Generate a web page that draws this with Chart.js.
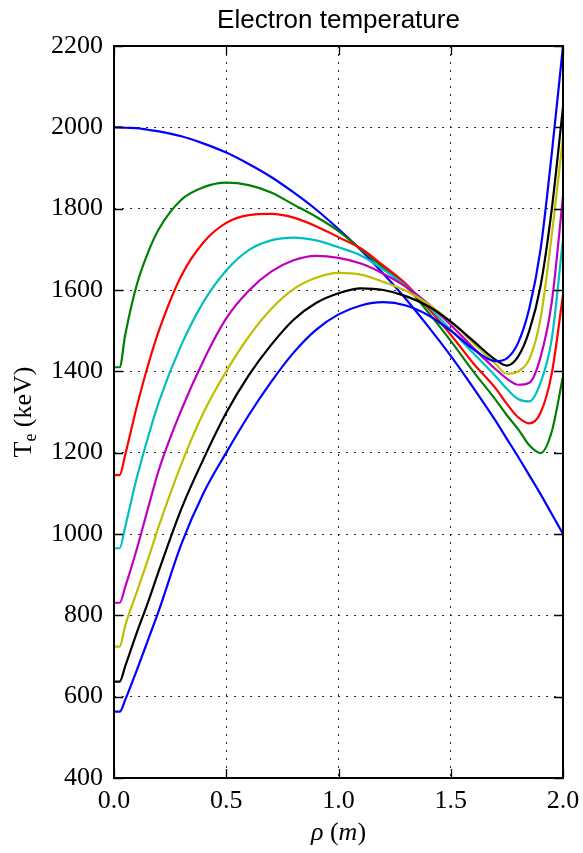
<!DOCTYPE html>
<html>
<head>
<meta charset="utf-8">
<script src="https://cdn.jsdelivr.net/npm/chart.js@4.4.1/dist/chart.umd.min.js"></script>
<style>
  html, body { margin: 0; padding: 0; background: #fff; }
  #wrap { width: 583px; height: 853px; }
</style>
</head>
<body>
<div id="wrap"><canvas id="c" width="583" height="853"></canvas></div>
<script>
const TITLE = 'Electron temperature';
const X_LABEL = ['ρ', ' (', 'm', ')'];
const Y_LABEL = ['T', 'e', ' (keV)'];
const X_TICKS = [0, 0.5, 1.0, 1.5, 2.0];
const Y_TICKS = [400, 600, 800, 1000, 1200, 1400, 1600, 1800, 2000, 2200];

const rho = [0, 0.025, 0.05, 0.1, 0.15, 0.2, 0.3, 0.4, 0.5, 0.6, 0.7, 0.8, 0.9, 1.0, 1.1, 1.2, 1.3, 1.4, 1.5, 1.6, 1.7, 1.75, 1.8, 1.85, 1.9, 1.95, 2.0];

const teBlue1   = [2000,2000,1999,1998,1994,1990,1978,1960,1938,1910,1878,1840,1798,1750,1698,1640,1578,1510,1438,1360,1278,1234,1190,1144,1098,1049,1000];
const teGreen   = [1410,1410,1490,1610,1690,1750,1822,1853,1864,1858,1840,1810,1780,1745,1700,1655,1610,1545,1475,1400,1330,1292,1258,1218,1199,1252,1388];
const teRed     = [1145,1145,1195,1310,1412,1500,1635,1718,1765,1784,1787,1778,1757,1730,1702,1660,1615,1555,1490,1420,1358,1320,1287,1272,1298,1395,1588];
const teCyan    = [965,965,1018,1135,1235,1325,1465,1572,1648,1698,1722,1729,1722,1705,1685,1650,1610,1560,1502,1445,1388,1357,1332,1326,1372,1480,1725];
const teMagenta = [831,831,870,960,1060,1158,1305,1428,1530,1598,1645,1673,1684,1679,1665,1640,1608,1566,1514,1458,1405,1382,1367,1372,1435,1570,1830];
const teYellow  = [723,723,775,855,935,1020,1172,1300,1400,1485,1553,1602,1630,1642,1638,1620,1598,1565,1522,1470,1418,1394,1400,1430,1530,1735,1975];
const teBlack   = [637,637,675,755,830,910,1062,1186,1298,1390,1465,1527,1568,1592,1604,1600,1585,1560,1522,1475,1428,1414,1436,1500,1610,1799,2050];
const teBlue2   = [563,563,592,663,737,812,975,1102,1200,1292,1374,1446,1502,1540,1562,1570,1562,1538,1500,1455,1425,1432,1470,1555,1700,1936,2200];

const seriesList = [teBlue1, teGreen, teRed, teCyan, teMagenta, teYellow, teBlack, teBlue2];
const colors = ['#0000ff', '#008000', '#ff0000', '#00bfbf', '#bf00bf', '#bfbf00', '#000000', '#0000ff'];

const datasets = seriesList.map((s, i) => ({
  data: s.map((v, k) => ({ x: rho[k], y: v })),
  borderColor: colors[i],
  borderWidth: 2.2,
  pointRadius: 0,
  fill: false,
  cubicInterpolationMode: 'monotone',
  order: seriesList.length - 1 - i
}));

const SERIF = '"Liberation Serif", "DejaVu Serif", serif';
const SANS = '"Liberation Sans", Arial, sans-serif';
const PLOT_LEFT = 114, PLOT_RIGHT = 563, PLOT_TOP = 46, PLOT_BOTTOM = 778, W = 583, H = 853;
const TICK_LEN = 9;

const decor = {
  id: 'decor',
  afterDraw(chart) {
    const { ctx, chartArea: a, scales: { x, y } } = chart;
    ctx.save();
    ctx.strokeStyle = '#000';
    ctx.lineWidth = 1.3;
    ctx.beginPath();
    x.ticks.forEach(t => {
      const px = Math.round(x.getPixelForValue(t.value)) + 0.5;
      ctx.moveTo(px, a.bottom); ctx.lineTo(px, a.bottom - TICK_LEN);
      ctx.moveTo(px, a.top); ctx.lineTo(px, a.top + TICK_LEN);
    });
    y.ticks.forEach(t => {
      const py = Math.round(y.getPixelForValue(t.value)) + 0.5;
      ctx.moveTo(a.left, py); ctx.lineTo(a.left + TICK_LEN, py);
      ctx.moveTo(a.right, py); ctx.lineTo(a.right - TICK_LEN, py);
    });
    ctx.stroke();
    ctx.lineWidth = 2;
    ctx.strokeRect(a.left, a.top, a.right - a.left, a.bottom - a.top);

    ctx.fillStyle = '#000';
    ctx.font = '26px ' + SANS;
    ctx.textAlign = 'center';
    ctx.textBaseline = 'alphabetic';
    ctx.fillText(TITLE, (a.left + a.right) / 2, 28);

    const xParts = [
      { t: X_LABEL[0], f: 'italic 26px ' + SERIF },
      { t: X_LABEL[1], f: '26px ' + SERIF },
      { t: X_LABEL[2], f: 'italic 26px ' + SERIF },
      { t: X_LABEL[3], f: '26px ' + SERIF }
    ];
    let tot = 0;
    xParts.forEach(p => { ctx.font = p.f; p.w = ctx.measureText(p.t).width; tot += p.w; });
    let cx = (a.left + a.right) / 2 - tot / 2;
    ctx.textAlign = 'left';
    xParts.forEach(p => { ctx.font = p.f; ctx.fillText(p.t, cx, 840); cx += p.w; });

    ctx.translate(31, (a.top + a.bottom) / 2);
    ctx.rotate(-Math.PI / 2);
    const yParts = [
      { t: Y_LABEL[0], f: '26px ' + SERIF, dy: 0 },
      { t: Y_LABEL[1], f: '18px ' + SERIF, dy: 5 },
      { t: Y_LABEL[2], f: '26px ' + SERIF, dy: 0 }
    ];
    tot = 0;
    yParts.forEach(p => { ctx.font = p.f; p.w = ctx.measureText(p.t).width; tot += p.w; });
    let cy = -tot / 2;
    yParts.forEach(p => { ctx.font = p.f; ctx.fillText(p.t, cy, p.dy); cy += p.w; });
    ctx.restore();
  }
};

new Chart(document.getElementById('c'), {
  type: 'line',
  data: { datasets },
  options: {
    responsive: false,
    animation: false,
    events: [],
    layout: { padding: { left: 0, right: W - PLOT_RIGHT, top: PLOT_TOP, bottom: 0 } },
    plugins: { legend: { display: false }, title: { display: false }, tooltip: { enabled: false } },
    scales: {
      x: {
        type: 'linear',
        min: 0, max: 2,
        afterBuildTicks: s => { s.ticks = X_TICKS.map(v => ({ value: v })); },
        afterFit: s => { s.height = H - PLOT_BOTTOM; s.paddingLeft = 0; s.paddingRight = 0; },
        ticks: {
          padding: 8,
          color: '#000',
          font: { family: SERIF, size: 26 },
          maxRotation: 0,
          callback: v => Number(v).toFixed(1)
        },
        grid: { color: 'rgba(0,0,0,0.85)', lineWidth: 1, drawTicks: false },
        border: { display: false, dash: [2, 6] }
      },
      y: {
        type: 'linear',
        min: 400, max: 2200,
        afterBuildTicks: s => { s.ticks = Y_TICKS.map(v => ({ value: v })); },
        afterFit: s => { s.width = PLOT_LEFT; s.paddingTop = 0; s.paddingBottom = 0; },
        ticks: {
          padding: 11,
          color: '#000',
          font: { family: SERIF, size: 26 },
          callback: v => String(v)
        },
        grid: { color: 'rgba(0,0,0,0.85)', lineWidth: 1, drawTicks: false },
        border: { display: false, dash: [2, 6] }
      }
    }
  },
  plugins: [decor]
});
</script>
</body>
</html>
